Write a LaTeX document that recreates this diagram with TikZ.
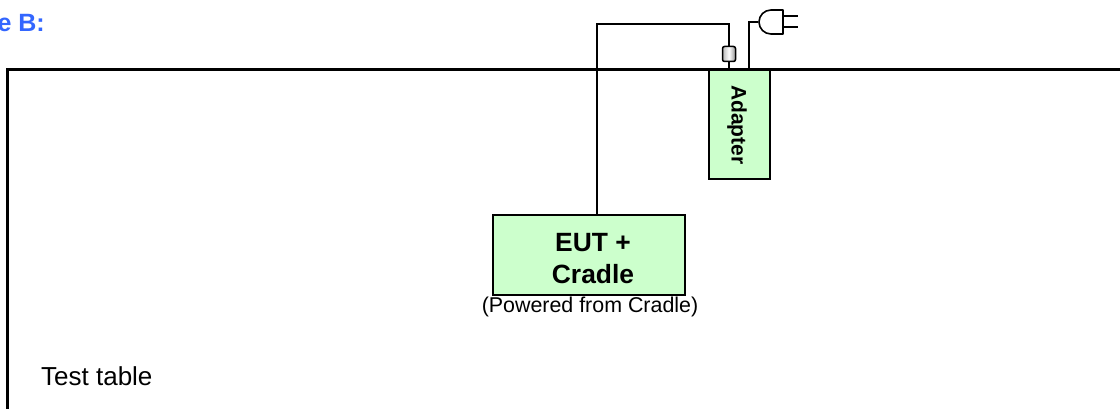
\documentclass[tikz,border=0pt]{standalone}
\usepackage{fontspec}
\setmainfont{Liberation Sans}
\usetikzlibrary{positioning,calc}
\definecolor{boxgreen}{HTML}{CCFFCC}
\definecolor{headblue}{HTML}{3366FF}
\tikzset{
  greenbox/.style={draw=black,line width=1.2pt,fill=boxgreen,inner sep=0pt,align=center,font=\bfseries},
  wire/.style={draw=black,line width=1.6pt},
  tableedge/.style={draw=black,line width=3pt},
  plainlabel/.style={inner sep=0pt,anchor=base west},
  ferrite/.style={draw=black,line width=1.5pt,rounded corners=2pt,left color=gray!55,right color=gray!85,middle color=white,minimum width=13pt,minimum height=15pt,inner sep=0pt},
}
\begin{document}
\begin{tikzpicture}[x=1pt,y=-1pt]
\useasboundingbox (0,0) rectangle (1120,409);
\node[greenbox,minimum width=192pt,minimum height=80pt] (eut) at (589,255) {};
\node[inner sep=0pt,align=center,font=\fontsize{26.4}{32}\selectfont\bfseries] (eutlabel) at (593,259) {EUT +\\Cradle};
\node[inner sep=0pt,anchor=base,font=\fontsize{21.4}{25}\selectfont] (powered) at (590,312) {(Powered from Cradle)};
\node[greenbox,minimum width=61pt,minimum height=109pt] (adapter) at (739.5,124.5) {};
\node[inner sep=0pt,rotate=-90,font=\fontsize{21}{25}\selectfont\bfseries] (adapterlabel) at (737,125) {Adapter};
\draw[tableedge,line cap=butt] (7,409) -- (7,70) -- (1120,70);
\node[ferrite] (ferr) at (729,54) {};
\coordinate (corner1) at (597,24);
\coordinate (corner2) at (729,24);
\coordinate (adtop) at (729,70);
\draw[wire] (eut.north -| corner1) -- (corner1) -- (corner2) -- (ferr.north);
\draw[wire] (ferr.south) -- (adtop);
\coordinate (plugout) at (749,70);
\coordinate (plugturn) at (749,22);
\coordinate (plugbody) at (758,22);
\draw[wire] (plugout) -- (plugturn) -- (plugbody);
\draw[wire,line join=round] (783,10) -- (771,10) arc[start angle=-90,delta angle=-180,radius=12] -- (783,34) -- cycle;
\draw[wire] (783,16) -- (798,16);
\draw[wire] (783,27) -- (798,27);
\node[plainlabel,font=\fontsize{26}{30}\selectfont] (tabletext) at (41,385) {Test table};
\node[inner sep=0pt,anchor=base east,text=headblue,font=\fontsize{25}{30}\selectfont\bfseries] (head) at (45,32) {e B:};
\end{tikzpicture}
\end{document}
